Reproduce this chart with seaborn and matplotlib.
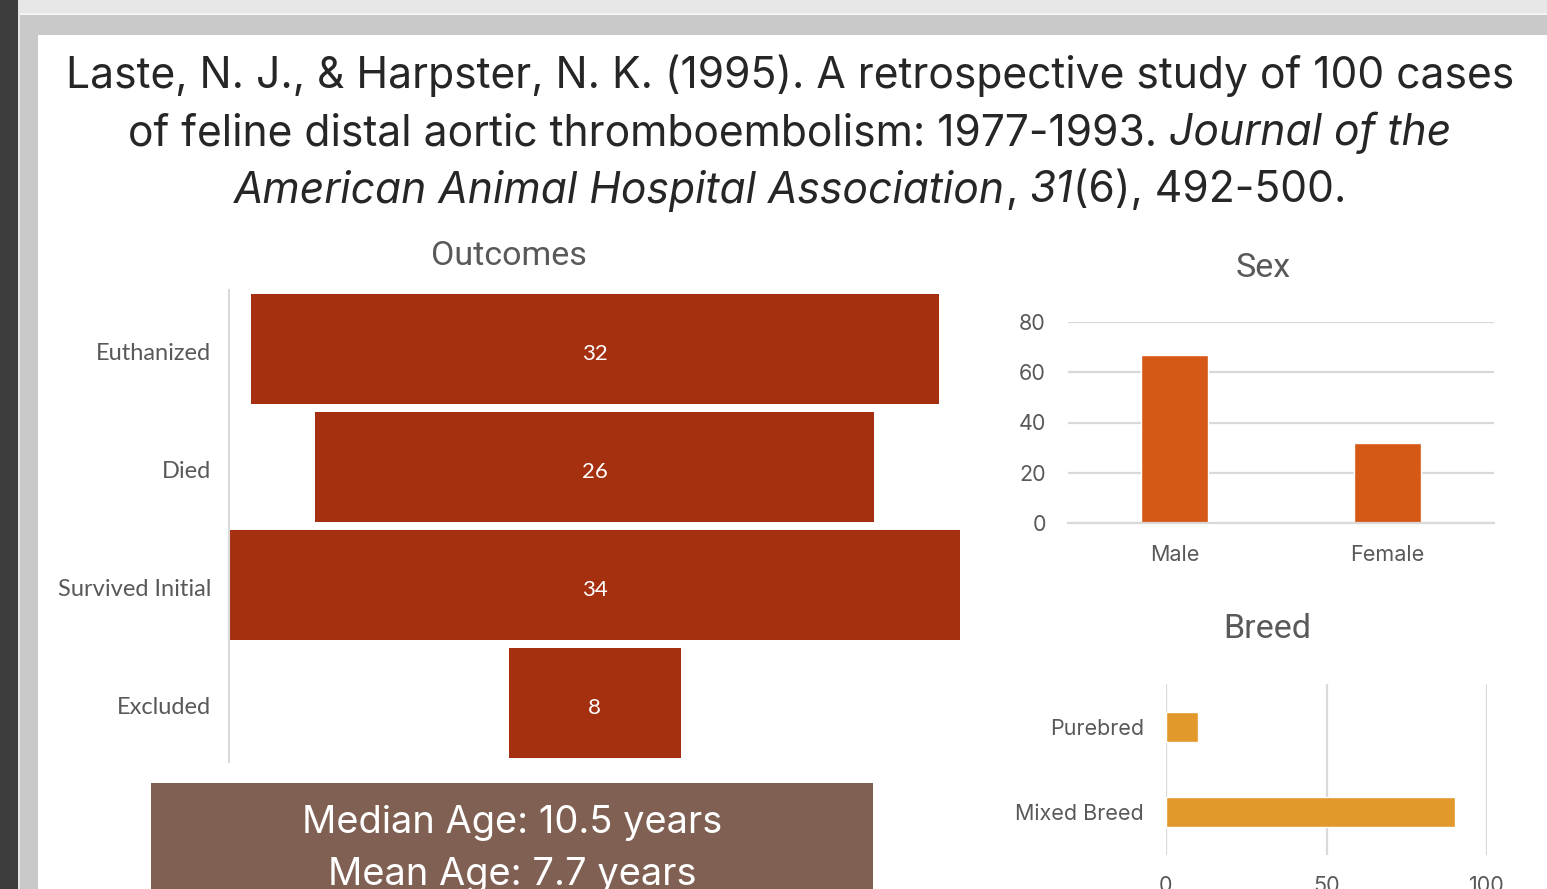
import matplotlib
matplotlib.use("Agg")
import matplotlib.pyplot as plt
import matplotlib.transforms as mtransforms
import seaborn as sns
from matplotlib.patches import Rectangle

# ---------------- data ----------------
outcome_labels = ["Euthanized", "Died", "Survived Initial", "Excluded"]
outcome_counts = [32, 26, 34, 8]
sex_labels = ["Male", "Female"]
sex_counts = [67, 32]
sex_ticks = [0, 20, 40, 60, 80]
breed_labels = ["Purebred", "Mixed Breed"]
breed_counts = [10, 90]
breed_ticks = [0, 50, 100]
title_lines = [
    [("Laste, N. J., & Harpster, N. K. (1995). A retrospective study of 100 cases", "normal")],
    [("of feline distal aortic thromboembolism: 1977-1993.", "normal"), (" ", "gap"), ("Journal of the", "italic")],
    [("American Animal Hospital Association", "italic"), (",", "normal"), (" ", "gap"),
     ("31", "italic"), ("(6), 492-500.", "normal")],
]
chart_titles = ["Outcomes", "Sex", "Breed"]
age_lines = ["Median Age: 10.5 years", "Mean Age: 7.7 years"]

# ---------------- style ----------------
W, H = 1547, 889
sns.set_theme(style="white")
plt.rcParams["font.family"] = ["Lato", "DejaVu Sans"]
TICK = "#595959"
GRID = "#d9d9d9"
C_OUT = "#a5300f"
C_SEX = "#d55816"
C_BREED = "#e2982a"
C_BOX = "#7f6052"
F_LATO = ["Lato", "DejaVu Sans"]
F_INTER = ["Inter", "DejaVu Sans"]
F_ROBOTO = ["Roboto", "DejaVu Sans"]

fig = plt.figure(figsize=(W / 100, H / 100), dpi=100)
fig.patch.set_facecolor("white")


def rect_px(l, t, r, b, color, z=0):
    fig.add_artist(Rectangle((l / W, 1 - b / H), (r - l) / W, (b - t) / H,
                             transform=fig.transFigure, color=color, lw=0, zorder=z))


def axes_px(l, t, r, b):
    return fig.add_axes([l / W, 1 - b / H, (r - l) / W, (b - t) / H])


def text_px(x, y, s, **kw):
    return fig.text(x / W, 1 - y / H, s, **kw)


# window / slide background
rect_px(0, 0, W, H, "#e6e6e6")
rect_px(0, 0, 18, H, "#3d3d3d")
rect_px(20, 13, W, 15, "#f4f4f4")
rect_px(20, 15, W, H, "#c9c9c9")
rect_px(38, 35, W, H, "white")

# ---------------- title ----------------
renderer = fig.canvas.get_renderer()


def seg_width(txt, style, size):
    t = fig.text(0, 0, txt, fontsize=size, family=F_INTER, style=style)
    w = t.get_window_extent(renderer).width
    t.remove()
    return w


def space_width(size):
    return seg_width("a a", "normal", size) - seg_width("aa", "normal", size)


probe = 30
w0 = seg_width(title_lines[0][0][0], "normal", probe)
tsize = probe * 1449 / w0
baselines = [88, 145.5, 202.5]
for line, yb in zip(title_lines, baselines):
    widths = []
    for txt, st in line:
        widths.append(space_width(tsize) if st == "gap" else seg_width(txt, st, tsize))
    x = 790 - sum(widths) / 2
    for (txt, st), w in zip(line, widths):
        if st != "gap":
            text_px(x, yb, txt, fontsize=tsize, family=F_INTER, style=st,
                    color="#262626", ha="left", va="baseline")
        x += w

# chart titles
for s, (cx, cy) in zip(chart_titles, [(509, 256), (1263, 268), (1267, 629)]):
    text_px(cx, cy, s, fontsize=24.5, family=F_ROBOTO, color=TICK, ha="center", va="center")

# ---------------- outcomes funnel ----------------
ax1 = axes_px(229, 290, 960, 762)
sns.barplot(x=outcome_counts, y=outcome_labels, color=C_OUT, orient="h",
            width=0.93, saturation=1, ax=ax1)
center = max(outcome_counts) / 2
for p, v in zip(ax1.patches, outcome_counts):
    p.set_x(center - v / 2)
    p.set_edgecolor("none")
    ax1.annotate(f"{v}", (center, p.get_y() + p.get_height() / 2), xytext=(0, -3.5),
                 textcoords="offset points", ha="center", va="center",
                 color="white", fontsize=16, family=F_LATO)
ax1.set_xlim(0, max(outcome_counts))
ax1.set_xticks([])
ax1.set_xlabel("")
ax1.set_ylabel("")
for s in ["top", "right", "bottom"]:
    ax1.spines[s].set_visible(False)
ax1.spines["left"].set_color(GRID)
ax1.spines["left"].set_linewidth(1.5)
ax1.tick_params(axis="y", length=0, pad=13, labelsize=17, labelcolor=TICK)
shift = mtransforms.ScaledTranslation(0, -2 / 72, fig.dpi_scale_trans)
for t in ax1.get_yticklabels():
    t.set_family(F_LATO)
    t.set_transform(t.get_transform() + shift)

# ---------------- sex ----------------
ax2 = axes_px(1068, 322, 1494, 523)
sns.barplot(x=sex_labels, y=sex_counts, color=C_SEX, width=0.315, saturation=1, ax=ax2)
ax2.set_ylim(0, 80)
ax2.set_yticks(sex_ticks)
ax2.yaxis.grid(True, color=GRID, lw=1.6)
ax2.set_axisbelow(True)
for s in ["top", "right", "left"]:
    ax2.spines[s].set_visible(False)
ax2.spines["bottom"].set_color(GRID)
ax2.spines["bottom"].set_linewidth(1.6)
ax2.tick_params(axis="y", length=0, pad=16, labelsize=15.5, labelcolor=TICK)
ax2.tick_params(axis="x", length=0, pad=16, labelsize=15.5, labelcolor=TICK)
for t in ax2.get_xticklabels() + ax2.get_yticklabels():
    t.set_family(F_INTER)
ax2.set_xlabel("")
ax2.set_ylabel("")

# ---------------- breed ----------------
ax3 = axes_px(1166, 684, 1487, 855)
sns.barplot(x=breed_counts, y=breed_labels, color=C_BREED, orient="h", width=0.35,
            saturation=1, ax=ax3)
ax3.set_xlim(0, 100)
ax3.set_xticks(breed_ticks)
ax3.xaxis.grid(True, color=GRID, lw=1.6)
ax3.set_axisbelow(True)
for s in ["top", "right", "bottom", "left"]:
    ax3.spines[s].set_visible(False)
ax3.tick_params(axis="y", length=0, pad=16, labelsize=15.5, labelcolor=TICK)
ax3.tick_params(axis="x", length=0, pad=15, labelsize=15.5, labelcolor=TICK)
for t in ax3.get_xticklabels() + ax3.get_yticklabels():
    t.set_family(F_INTER)
ax3.set_xlabel("")
ax3.set_ylabel("")

# ---------------- age box ----------------
rect_px(151, 783, 873, H + 5, C_BOX, z=1)
for txt, yb in zip(age_lines, [833, 885]):
    text_px(512, yb, txt, fontsize=27.4, color="white", ha="center",
            va="baseline", family=F_INTER, zorder=2)

fig.savefig("out.png", dpi=100)
